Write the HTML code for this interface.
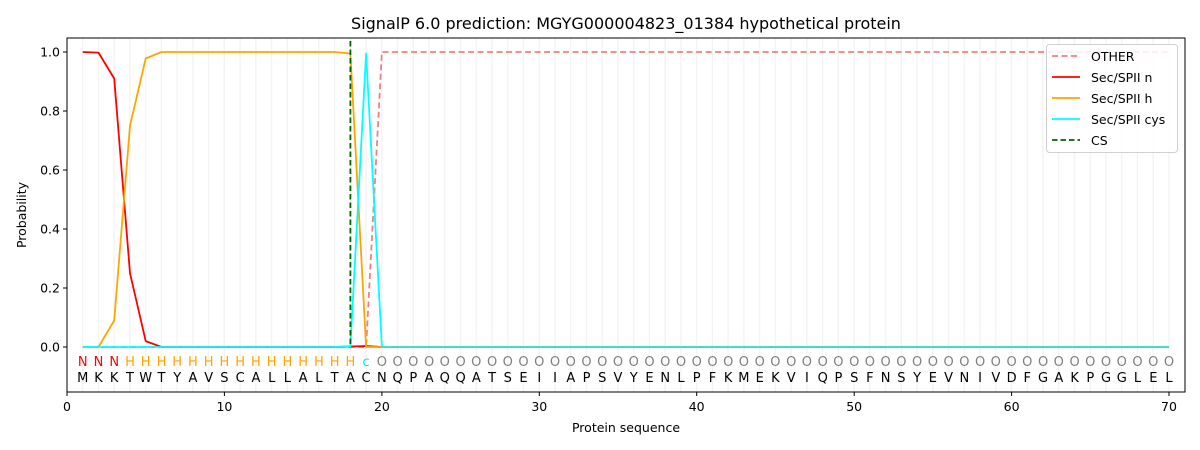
<!DOCTYPE html>
<html><head><meta charset="utf-8"><style>body{margin:0;background:#fff}svg{display:block;font-family:"DejaVu Sans","Liberation Sans",sans-serif}</style></head>
<body>
<svg width="1200" height="450" viewBox="0 0 1200 450" xmlns="http://www.w3.org/2000/svg">
<defs>
<pattern id="g" x="75" y="0" width="15.743" height="450" patternUnits="userSpaceOnUse">
<rect x="7" y="0" width="1.4" height="450" fill="#f3f3f3"/>
</pattern>
</defs>
<rect width="1200" height="450" fill="#fff"/>
<text x="626" y="29" font-size="16" text-anchor="middle">SignalP 6.0 prediction: MGYG000004823_01384 hypothetical protein</text>
<rect x="75" y="38" width="1102" height="354" fill="url(#g)"/>
<g fill="none" stroke-width="1.8" stroke-linejoin="round">
<polyline stroke="#f08080" stroke-dasharray="6,3.5" points="82.7,347 350.4,347 366.1,347 381.9,52 1169,52"/>
<polyline stroke="#ff0000" points="82.7,52 98.5,52.6 114.2,78.5 130,273.2 145.7,341.1 161.5,347 334.6,347 350.4,346.5 366.1,346 381.9,347 1169,347"/>
<polyline stroke="#ffa500" points="82.7,347 98.5,347 114.2,320.5 130,125.7 145.7,58.5 161.5,52 334.6,52 350.4,53.5 366.1,347 381.9,347 1169,347"/>
<polyline stroke="#00ffff" points="82.7,347 334.6,347 350.4,346.2 366.1,53.5 381.9,347 1169,347"/>
<line x1="381.9" y1="347" x2="1169" y2="347" stroke="#48dcc0"/>
<line x1="350.4" y1="41" x2="350.4" y2="347" stroke="#006400" stroke-dasharray="5.5,3"/>
</g>
<rect x="67" y="38" width="1118" height="354" fill="none" stroke="#000" stroke-width="1"/>
<g stroke="#000" stroke-width="1">
<line x1="67" y1="392" x2="67" y2="396"/><line x1="224.4" y1="392" x2="224.4" y2="396"/><line x1="381.9" y1="392" x2="381.9" y2="396"/><line x1="539.3" y1="392" x2="539.3" y2="396"/><line x1="696.7" y1="392" x2="696.7" y2="396"/><line x1="854.2" y1="392" x2="854.2" y2="396"/><line x1="1011.6" y1="392" x2="1011.6" y2="396"/><line x1="1169" y1="392" x2="1169" y2="396"/>
<line x1="63" y1="347" x2="67" y2="347"/><line x1="63" y1="288" x2="67" y2="288"/><line x1="63" y1="229" x2="67" y2="229"/><line x1="63" y1="170" x2="67" y2="170"/><line x1="63" y1="111" x2="67" y2="111"/><line x1="63" y1="52" x2="67" y2="52"/>
</g>
<g font-size="12.5" text-anchor="middle">
<text x="67" y="411">0</text><text x="224.4" y="411">10</text><text x="381.9" y="411">20</text><text x="539.3" y="411">30</text><text x="696.7" y="411">40</text><text x="854.2" y="411">50</text><text x="1011.6" y="411">60</text><text x="1169" y="411">70</text>
<text x="626" y="432">Protein sequence</text>
</g>
<g font-size="12.5" text-anchor="end">
<text x="60" y="351.5">0.0</text><text x="60" y="292.5">0.2</text><text x="60" y="233.5">0.4</text><text x="60" y="174.5">0.6</text><text x="60" y="115.5">0.8</text><text x="60" y="56.5">1.0</text>
</g>
<text transform="translate(26,215) rotate(-90)" font-size="12.5" text-anchor="middle">Probability</text>
<g font-size="13" text-anchor="middle">
<text y="366" fill="#ff0000" x="82.7 98.5 114.2">NNN</text>
<text y="366" fill="#ffa500" x="130.0 145.7 161.5 177.2 192.9 208.7 224.4 240.2 255.9 271.7 287.4 303.1 318.9 334.6 350.4">HHHHHHHHHHHHHHH</text>
<text y="366" fill="#00e5ee" x="366.1">c</text>
<text y="366" fill="#808080" x="381.9 397.6 413.3 429.1 444.8 460.6 476.3 492.1 507.8 523.5 539.3 555.0 570.8 586.5 602.3 618.0 633.7 649.5 665.2 681.0 696.7 712.5 728.2 743.9 759.7 775.4 791.2 806.9 822.7 838.4 854.2 869.9 885.6 901.4 917.1 932.9 948.6 964.4 980.1 995.8 1011.6 1027.3 1043.1 1058.8 1074.6 1090.3 1106.0 1121.8 1137.5 1153.3 1169.0">OOOOOOOOOOOOOOOOOOOOOOOOOOOOOOOOOOOOOOOOOOOOOOOOOOO</text>
<text y="382" fill="#000" x="82.7 98.5 114.2 130.0 145.7 161.5 177.2 192.9 208.7 224.4 240.2 255.9 271.7 287.4 303.1 318.9 334.6 350.4 366.1 381.9 397.6 413.3 429.1 444.8 460.6 476.3 492.1 507.8 523.5 539.3 555.0 570.8 586.5 602.3 618.0 633.7 649.5 665.2 681.0 696.7 712.5 728.2 743.9 759.7 775.4 791.2 806.9 822.7 838.4 854.2 869.9 885.6 901.4 917.1 932.9 948.6 964.4 980.1 995.8 1011.6 1027.3 1043.1 1058.8 1074.6 1090.3 1106.0 1121.8 1137.5 1153.3 1169.0">MKKTWTYAVSCALLALTACNQPAQQATSEIIAPSVYENLPFKMEKVIQPSFNSYEVNIVDFGAKPGGLEL</text>
</g>
<rect x="1046.5" y="44.5" width="131" height="108" rx="3" fill="#fff" fill-opacity="0.85" stroke="#d0d0d0"/>
<g stroke-width="1.8">
<line x1="1052" y1="56" x2="1080" y2="56" stroke="#f08080" stroke-dasharray="6,3.5"/>
<line x1="1052" y1="77" x2="1080" y2="77" stroke="#ff0000"/>
<line x1="1052" y1="98" x2="1080" y2="98" stroke="#ffa500"/>
<line x1="1052" y1="119" x2="1080" y2="119" stroke="#00ffff"/>
<line x1="1052" y1="140" x2="1080" y2="140" stroke="#006400" stroke-dasharray="5.5,3"/>
</g>
<g font-size="12.5">
<text x="1091" y="61">OTHER</text><text x="1091" y="82">Sec/SPII n</text><text x="1091" y="103">Sec/SPII h</text><text x="1091" y="124">Sec/SPII cys</text><text x="1091" y="145">CS</text>
</g>
</svg>
</body></html>
